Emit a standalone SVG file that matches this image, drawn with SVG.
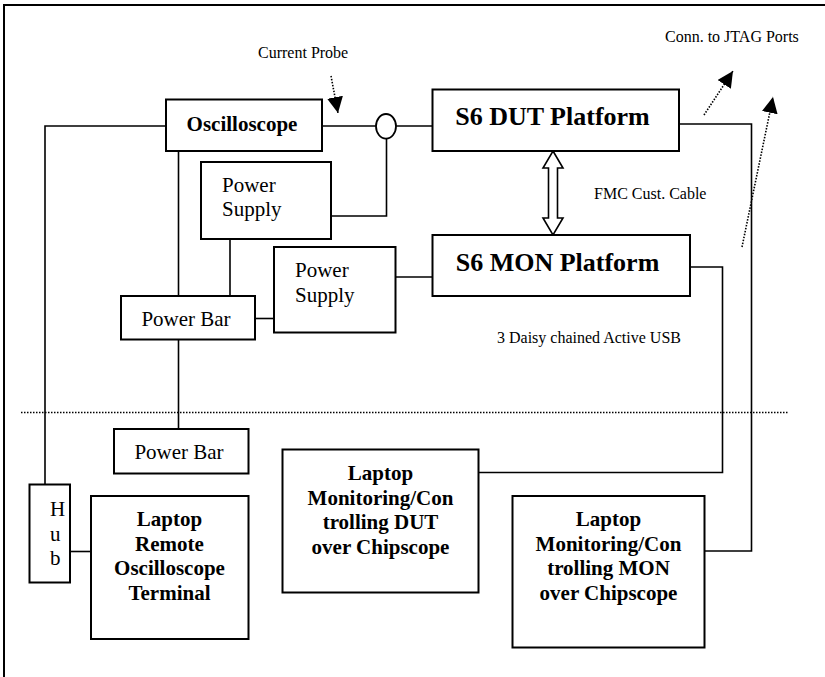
<svg xmlns="http://www.w3.org/2000/svg" width="825" height="677" viewBox="0 0 825 677">
<style>
.box{fill:#fff;stroke:#000;stroke-width:2}
.ln{fill:none;stroke:#000;stroke-width:1.6}
.dot{fill:none;stroke:#000;stroke-width:1.6;stroke-dasharray:1.5 1.5}
.b{font-family:"Liberation Serif",serif;font-weight:bold;fill:#000}
.r{font-family:"Liberation Serif",serif;fill:#000}
.t21{font-size:21px}
.t26{font-size:26px}
.t16{font-size:16px}
</style>
<defs>
<marker id="ah" viewBox="0 0 10 10" refX="10" refY="5" markerWidth="10" markerHeight="10" markerUnits="userSpaceOnUse" orient="auto">
<path d="M0,0 L10,5 L0,10 z" fill="#000"/>
</marker>
<marker id="ahb" viewBox="0 0 10 10" refX="10" refY="5" markerWidth="16" markerHeight="16" markerUnits="userSpaceOnUse" orient="auto">
<path d="M0,0 L10,5 L0,10 z" fill="#000"/>
</marker>
</defs>
<rect x="0" y="0" width="825" height="677" fill="#fff"/>
<rect x="4" y="5" width="900" height="900" fill="none" stroke="#000" stroke-width="2"/>

<g id="connectors">
<path class="ln" d="M166,126 H45 V484"/>
<path class="ln" d="M322,126 H376"/>
<path class="ln" d="M396,126 H432"/>
<path class="ln" d="M331,216 H386.5 V138.5"/>
<path class="ln" d="M178.5,151 V296"/>
<path class="ln" d="M230,239 V296"/>
<path class="ln" d="M255,318.5 H274"/>
<path class="ln" d="M178.5,339 V429"/>
<path class="ln" d="M396,277 H432"/>
<path class="ln" d="M679,124 H751.5 V551 H704"/>
<path class="ln" d="M690,267 H722.5 V472.5 H478"/>
<path class="ln" d="M70,551.5 H91"/>
<path class="dot" d="M21,412.5 H788"/>
<path class="dot" d="M331,76 L338,113" marker-end="url(#ahb)"/>
<path class="dot" d="M704,115 L733,71" marker-end="url(#ahb)"/>
<path class="dot" d="M742,247 L773,97" marker-end="url(#ahb)"/>
<path d="M553,151 L563,168 L557.5,168 L557.5,218 L563,218 L553,235 L543,218 L548.5,218 L548.5,168 L543,168 Z" fill="#fff" stroke="#000" stroke-width="1.6"/>
<ellipse cx="386" cy="126.3" rx="10" ry="12.3" fill="#fff" stroke="#000" stroke-width="1.8"/>
</g>

<g id="labels">
<text class="r t16" x="258" y="57.5">Current Probe</text>
<text class="r t16" x="665" y="42">Conn. to JTAG Ports</text>
<text class="r t16" x="594" y="199">FMC Cust. Cable</text>
<text class="r t16" x="497" y="342.5">3 Daisy chained Active USB</text>
</g>

<g id="oscilloscope">
<rect class="box" x="166" y="99.5" width="156" height="51.5"/>
<text class="b t21" x="242" y="131" text-anchor="middle">Oscilloscope</text>
</g>

<g id="s6dut">
<rect class="box" x="432.5" y="89.5" width="246.5" height="61.5"/>
<text class="b t26" x="552.5" y="125" text-anchor="middle">S6 DUT Platform</text>
</g>

<g id="s6mon">
<rect class="box" x="432.5" y="235" width="257.5" height="61"/>
<text class="b t26" x="557.5" y="271" text-anchor="middle">S6 MON Platform</text>
</g>

<g id="psu1">
<rect class="box" x="201" y="162" width="130" height="77"/>
<text class="r t21" x="222" y="192">Power</text>
<text class="r t21" x="222" y="216">Supply</text>
</g>

<g id="psu2">
<rect class="box" x="274" y="247" width="121.5" height="85.5"/>
<text class="r t21" x="295" y="277">Power</text>
<text class="r t21" x="295" y="301.5">Supply</text>
</g>

<g id="powerbar1">
<rect class="box" x="121" y="296" width="134" height="43.5"/>
<text class="r t21" x="186" y="326" text-anchor="middle">Power Bar</text>
</g>

<g id="powerbar2">
<rect class="box" x="114" y="429" width="134.5" height="44.5"/>
<text class="r t21" x="179" y="458.5" text-anchor="middle">Power Bar</text>
</g>

<g id="hub">
<rect class="box" x="29.5" y="484.5" width="40.5" height="98"/>
<text class="r t21" x="50" y="516">H</text>
<text class="r t21" x="50" y="540.5">u</text>
<text class="r t21" x="50" y="565">b</text>
</g>

<g id="laptop-remote">
<rect class="box" x="91" y="496" width="157.5" height="143"/>
<text class="b t21" x="169.5" y="526" text-anchor="middle">Laptop</text>
<text class="b t21" x="169.5" y="550.5" text-anchor="middle">Remote</text>
<text class="b t21" x="169.5" y="575" text-anchor="middle">Oscilloscope</text>
<text class="b t21" x="169.5" y="599.5" text-anchor="middle">Terminal</text>
</g>

<g id="laptop-dut">
<rect class="box" x="282.5" y="449.5" width="196" height="143"/>
<text class="b t21" x="380.5" y="480" text-anchor="middle">Laptop</text>
<text class="b t21" x="380.5" y="504.5" text-anchor="middle">Monitoring/Con</text>
<text class="b t21" x="380.5" y="529" text-anchor="middle">trolling DUT</text>
<text class="b t21" x="380.5" y="553.5" text-anchor="middle">over Chipscope</text>
</g>

<g id="laptop-mon">
<rect class="box" x="512.5" y="496" width="192" height="151.5"/>
<text class="b t21" x="608.5" y="526" text-anchor="middle">Laptop</text>
<text class="b t21" x="608.5" y="550.5" text-anchor="middle">Monitoring/Con</text>
<text class="b t21" x="608.5" y="575" text-anchor="middle">trolling MON</text>
<text class="b t21" x="608.5" y="599.5" text-anchor="middle">over Chipscope</text>
</g>
</svg>
